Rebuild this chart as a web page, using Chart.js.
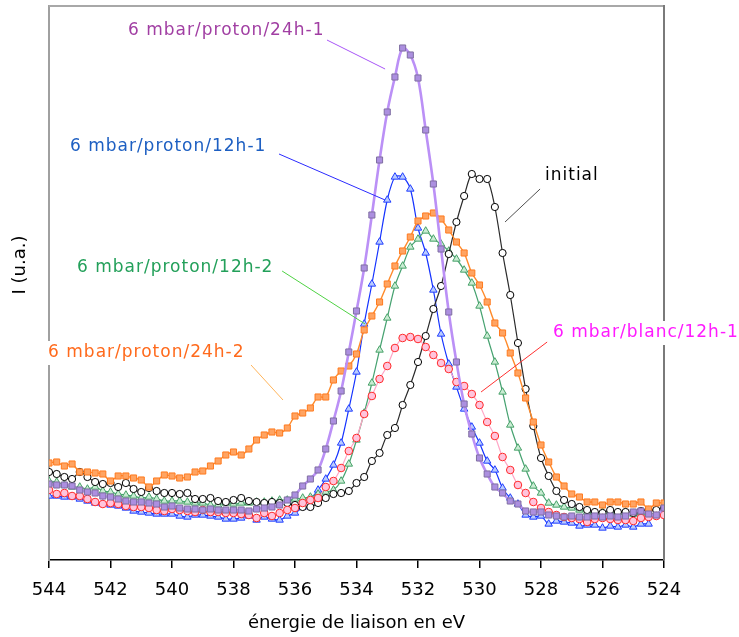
<!DOCTYPE html>
<html>
<head>
<meta charset="utf-8">
<script src="https://cdn.jsdelivr.net/npm/chart.js@4.4.1/dist/chart.umd.min.js"></script>
<style>
  body { margin: 0; background: #fff; }
  #wrap { width: 739px; height: 637px; position: relative; }
</style>
</head>
<body>
<div id="wrap"><canvas id="xps"></canvas></div>
<script>
// binding energy (eV), same grid for all spectra
var energies = [544, 543.75, 543.5, 543.25, 543, 542.75, 542.5, 542.25, 542, 541.75,
  541.5, 541.25, 541, 540.75, 540.5, 540.25, 540, 539.75, 539.5, 539.25,
  539, 538.75, 538.5, 538.25, 538, 537.75, 537.5, 537.25, 537, 536.75,
  536.5, 536.25, 536, 535.75, 535.5, 535.25, 535, 534.75, 534.5, 534.25,
  534, 533.75, 533.5, 533.25, 533, 532.75, 532.5, 532.25, 532, 531.75,
  531.5, 531.25, 531, 530.75, 530.5, 530.25, 530, 529.75, 529.5, 529.25,
  529, 528.75, 528.5, 528.25, 528, 527.75, 527.5, 527.25, 527, 526.75,
  526.5, 526.25, 526, 525.75, 525.5, 525.25, 525, 524.75, 524.5, 524.25, 524];

// intensities (u.a.)
var proton24h1 = [76, 75, 75, 74, 70, 68, 67, 64, 63, 61, 59, 58, 58, 57, 56, 53, 54, 52, 51, 51,
  50, 51, 50, 50, 50, 50, 49, 51, 52, 53, 55, 60, 65, 74, 81, 90, 111, 139, 169, 208,
  249, 292, 345, 400, 448, 483, 512, 505, 482, 430, 376, 311, 248, 198, 156, 126, 102, 86, 73, 67,
  59, 56, 49, 48, 48, 45, 44, 43, 44, 43, 43, 44, 43, 44, 43, 44, 48, 49, 46, 45, 52];
var proton12h1 = [64, 64, 63, 63, 61, 59, 57, 56, 55, 54, 52, 49, 48, 47, 46, 46, 46, 44, 43, 45,
  45, 44, 43, 41, 41, 42, 44, 40, 43, 41, 40, 44, 47, 53, 61, 70, 81, 95, 117, 151,
  188, 236, 276, 318, 360, 383, 383, 371, 332, 307, 270, 226, 196, 173, 151, 133, 117, 99, 90, 72,
  62, 56, 45, 43, 44, 36, 39, 38, 37, 34, 35, 35, 32, 34, 33, 35, 33, 36, 36, null, null];
var proton12h2 = [79, 78, 75, 73, 73, 71, 73, 69, 68, 66, 65, 64, 62, 63, 61, 59, 59, 59, 58, 57,
  57, 55, 55, 57, 56, 57, 57, 58, 58, 59, 60, 60, 61, 62, 63, 66, 68, 70, 79, 96,
  120, 147, 177, 210, 242, 274, 294, 313, 321, 329, 321, 316, 309, 301, 290, 277, 254, 224, 198, 168,
  135, 112, 91, 74, 67, 57, 55, 53, 52, 50, 48, 47, 48, 48, 47, 48, 46, 47, 46, 47, 49];
var proton24h2 = [97, 98, 94, 96, 88, 88, 87, 86, 79, 84, 84, 82, 80, 73, 79, 85, 84, 82, 83, 88,
  89, 94, 99, 105, 108, 105, 111, 120, 125, 128, 127, 132, 144, 147, 152, 163, 163, 180, 189, 194,
  206, 230, 244, 258, 276, 294, 309, 323, 339, 344, 347, 341, 330, 318, 307, 287, 275, 258, 237, 227,
  207, 187, 162, 138, 115, 98, 83, 74, 66, 63, 58, 58, 55, 58, 58, 56, 56, 58, 51, 57, 57];
var initial = [88, 86, 83, 81, 88, 83, 78, 76, 77, 73, 77, 71, 68, 72, 69, 67, 67, 66, 67, 61,
  61, 62, 59, 58, 60, 62, 59, 58, 57, 58, 57, 57, 55, 53, 53, 57, 62, 66, 67, 69,
  77, 83, 99, 107, 125, 132, 155, 175, 198, 224, 251, 274, 306, 338, 364, 386, 381, 381, 353, 307,
  265, 217, 171, 134, 102, 84, 69, 60, 56, 53, 50, 48, 47, 50, 48, 48, 47, 49, 50, 50, 52];
var blanc12h1 = [70, 66, 67, 64, 64, 61, 58, 56, 57, 56, 54, 53, 53, 52, 50, 49, 51, 50, 49, 48,
  50, 48, 48, 47, 47, 46, 45, 42, 47, 44, 47, 50, 52, 57, 60, 62, 73, 79, 92, 109,
  122, 146, 164, 181, 194, 212, 222, 223, 221, 213, 205, 197, 191, 178, 174, 166, 155, 138, 124, 103,
  90, 75, 67, 58, 52, 48, 45, 43, 42, 41, 38, 41, 42, 41, 40, 40, 39, 42, 43, 44, 45];

function pts(values) {
  return values.map(function(v, i) { return {x: energies[i], y: v}; });
}

// callouts: text start and leader line, in data units (eV, u.a.)
var callouts = [
  {text: '6 mbar/proton/24h-1', color: '#a13fa3', line: '#a855f7', at: [541.43, 529], from: [534.96, 520], to: [533.07, 491]},
  {text: '6 mbar/proton/12h-1', color: '#1d5fc2', line: '#2a2aff', at: [543.32, 413], from: [536.52, 406], to: [533.07, 360]},
  {text: '6 mbar/proton/12h-2', color: '#23a05a', line: '#4fd244', at: [543.09, 292], from: [536.42, 289], to: [533.72, 236]},
  {text: '6 mbar/proton/24h-2', color: '#ff6a1c', line: '#ffb45a', at: [544.03, 207], from: [537.43, 195], to: [536.39, 160], boxed: true},
  {text: 'initial', color: '#000000', line: '#505050', at: [527.87, 384], from: [528.03, 371], to: [529.17, 338]},
  {text: '6 mbar/blanc/12h-1', color: '#ff1aff', line: '#ff3030', at: [527.61, 227], from: [527.80, 218], to: [529.95, 168], boxed: true}
];

const framePlugin = {
  id: 'frame',
  beforeDatasetsDraw(chart) {
    const {ctx, chartArea: a} = chart;
    ctx.save();
    ctx.lineWidth = 2;
    ctx.strokeStyle = '#a8a8a8';
    ctx.beginPath(); ctx.moveTo(a.left, a.top); ctx.lineTo(a.right, a.top); ctx.stroke();
    ctx.strokeStyle = '#7a7a7a';
    ctx.beginPath(); ctx.moveTo(a.right, a.top - 1); ctx.lineTo(a.right, a.bottom); ctx.stroke();
    ctx.restore();
  },
  afterDraw(chart) {
    const {ctx, scales: {x, y}} = chart;
    ctx.save();
    ctx.font = '17px "DejaVu Sans"';
    ctx.letterSpacing = '1px';
    ctx.textBaseline = 'middle';
    ctx.textAlign = 'left';
    callouts.forEach(function(c) {
      const tx = x.getPixelForValue(c.at[0]), ty = y.getPixelForValue(c.at[1]);
      if (c.boxed) {
        const w = ctx.measureText(c.text).width;
        ctx.fillStyle = '#fff';
        ctx.fillRect(tx - 2, ty - 12, w + 4, 24);
      }
      ctx.fillStyle = c.color;
      ctx.fillText(c.text, tx, ty);
      ctx.strokeStyle = c.line;
      ctx.lineWidth = 1;
      ctx.beginPath();
      ctx.moveTo(x.getPixelForValue(c.from[0]), y.getPixelForValue(c.from[1]));
      ctx.lineTo(x.getPixelForValue(c.to[0]), y.getPixelForValue(c.to[1]));
      ctx.stroke();
    });
    // y title, a bit above the middle like the original
    ctx.letterSpacing = '0px';
    ctx.font = '18px "DejaVu Sans"';
    ctx.translate(20, y.getPixelForValue(295));
    ctx.rotate(-Math.PI / 2);
    ctx.textAlign = 'center';
    ctx.fillStyle = '#000';
    ctx.fillText('I (u.a.)', 0, 0);
    ctx.restore();
  }
};

function series(label, data, line, width, style, radius, fill, edge, tension) {
  return {
    label: label,
    data: pts(data),
    borderColor: line,
    borderWidth: width,
    pointStyle: style,
    pointRadius: radius,
    pointBackgroundColor: fill,
    pointBorderColor: edge,
    pointBorderWidth: 1,
    tension: tension,
    fill: false,
    spanGaps: false
  };
}

Chart.defaults.font.family = '"DejaVu Sans"';
new Chart('xps', {
  type: 'line',
  data: {
    datasets: [
      // first one is drawn on top
      series('6 mbar/proton/24h-1', proton24h1, '#bb90f6', 2.6, 'rect', 4.3, '#ac8fe0', '#7f6ea2', 0.35),
      series('6 mbar/proton/24h-2', proton24h2, '#ff8a2a', 1.4, 'rect', 4.3, '#ffa462', '#ff7a1e', 0.3),
      series('6 mbar/blanc/12h-1', blanc12h1, '#ffa6c6', 1.2, 'circle', 3.8, '#ffc4dc', '#ff2a2a', 0.3),
      series('initial', initial, '#2a2a2a', 1.2, 'circle', 3.6, '#ffffff', '#000000', 0.3),
      series('6 mbar/proton/12h-2', proton12h2, '#46a270', 1.2, 'triangle', 4.3, '#c9ecd3', '#45a067', 0.3),
      series('6 mbar/proton/12h-1', proton12h1, '#1432ff', 1.2, 'triangle', 4.3, '#b9ccff', '#1f3cff', 0.3)
    ]
  },
  options: {
    responsive: true,
    maintainAspectRatio: false,
    animation: false,
    layout: { padding: { top: 6, right: 75, left: 0, bottom: 0 } },
    scales: {
      x: {
        type: 'linear',
        reverse: true,
        min: 524,
        max: 544,
        afterFit(scale) { scale.height = 77; },
        ticks: { stepSize: 2, padding: 12, color: '#000', font: { size: 18 } },
        grid: { drawOnChartArea: false, drawTicks: true, tickLength: 8, color: '#000', lineWidth: 1.5 },
        border: { color: '#000', width: 1.5 },
        title: { display: true, text: 'énergie de liaison en eV', color: '#000', font: { size: 18 }, padding: { top: 0, bottom: 3 } }
      },
      y: {
        min: 0,
        max: 554,
        afterFit(scale) { scale.width = 49; },
        ticks: { display: false },
        grid: { display: false },
        border: { color: '#a0a0a0', width: 2 }
      }
    },
    plugins: {
      legend: { display: false },
      tooltip: { enabled: false }
    }
  },
  plugins: [framePlugin]
});
</script>
</body>
</html>
